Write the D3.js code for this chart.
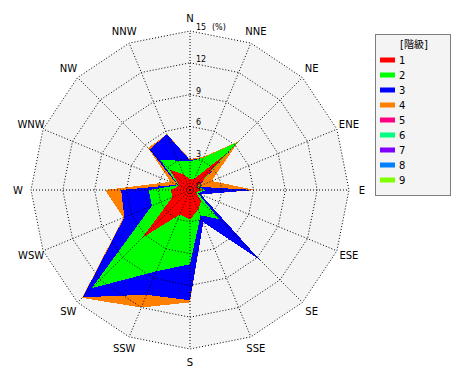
<!DOCTYPE html>
<html><head><meta charset="utf-8">
<script src="https://cdn.jsdelivr.net/npm/d3@7"></script>
<style>
html,body{margin:0;padding:0;background:#fff;}
svg{display:block;}
text{font-family:"DejaVu Sans","Noto Sans CJK JP",sans-serif;fill:#000;}
</style></head>
<body>
<script>
const directions = ["N","NNE","NE","ENE","E","ESE","SE","SSE","S","SSW","SW","WSW","W","WNW","NW","NNW"];
const classNames = ["1","2","3","4","5","6","7","8","9"];
const classColors = ["#ff0000","#00ff00","#0000ff","#ff8000","#ff0080","#00ff80","#8000ff","#0080ff","#80ff00"];
// frequency (%) per class, per direction (N..NNW clockwise)
const class1 = [1.0,1.2,4.8,0.7,1.2,0.6,1.5,2.0,2.8,2.5,6.4,1.8,1.8,1.1,2.7,1.6];
const class2 = [1.7,2.1,1.6,0.05,0.3,0.2,2.4,0.6,4.2,5.8,6.7,2.1,2.1,0.1,1.3,1.4];
const class3 = [0.1,0.0,0.0,0.05,4.6,0.3,5.4,0.7,3.4,2.4,1.2,2.8,2.6,0.1,1.4,2.7];
const class4 = [0.1,0.1,0.1,1.4,0.1,0.0,0.0,0.0,0.2,1.3,0.1,0.1,1.5,0.7,0.2,0.0];
const class5 = [0,0,0,0,0,0,0,0,0,0,0,0,0,0,0,0];
const class6 = [0,0,0,0,0,0,0,0,0,0,0,0,0,0,0,0];
const class7 = [0,0,0,0,0,0,0,0,0,0,0,0,0,0,0,0];
const class8 = [0,0,0,0,0,0,0,0,0,0,0,0,0,0,0,0];
const class9 = [0,0,0,0,0,0,0,0,0,0,0,0,0,0,0,0];
const ringTicks = [3,6,9,12,15];
const tickLabels = ["0","3","6","9","12","15"];
const unitLabel = "(%)";
const legendTitle = "[階級]";

const series = [class1,class2,class3,class4,class5,class6,class7,class8,class9];

const W = 470, H = 380, cx = 190, cy = 190, R = 159;
const svg = d3.select("body").append("svg").attr("width", W).attr("height", H);

const r = d3.scaleLinear().domain([0, 15]).range([0, R]);
const ang = d3.scaleLinear().domain([0, directions.length]).range([0, 2 * Math.PI]);

const g = svg.append("g").attr("transform", `translate(${cx},${cy})`);

const ringLine = d3.lineRadial()
  .angle((d, i) => ang(i))
  .radius(d => r(d))
  .curve(d3.curveLinearClosed);

// background
g.append("path")
  .attr("d", ringLine(directions.map(() => 15)))
  .attr("fill", "#f4f4f4");

// cumulative polygons
const cum = [];
series.forEach((s, k) => {
  cum.push(s.map((v, i) => v + (k > 0 ? cum[k - 1][i] : 0)));
});
for (let k = series.length - 1; k >= 0; k--) {
  g.append("path")
    .attr("d", ringLine(cum[k]))
    .attr("fill", classColors[k])
    .attr("shape-rendering", "crispEdges");
}

// grid rings
ringTicks.forEach(t => {
  g.append("path")
    .attr("d", ringLine(directions.map(() => t)))
    .attr("fill", "none")
    .attr("stroke", "#000")
    .attr("stroke-width", 1)
    .attr("stroke-dasharray", "1,2");
});
// spokes
directions.forEach((d, i) => {
  const a = ang(i);
  g.append("line")
    .attr("x1", 0).attr("y1", 0)
    .attr("x2", r(15) * Math.sin(a)).attr("y2", -r(15) * Math.cos(a))
    .attr("stroke", "#000")
    .attr("stroke-width", 1)
    .attr("stroke-dasharray", "1,2");
});

// tick labels
tickLabels.forEach((t, i) => {
  g.append("text")
    .attr("x", 6)
    .attr("y", -r(+t) - 1)
    .attr("font-size", 8)
    .text(t);
});
g.append("text").attr("x", 22).attr("y", -r(15) - 1).attr("font-size", 8).text(unitLabel);

// direction labels
directions.forEach((d, i) => {
  const a = ang(i);
  const rr = R + 13;
  g.append("text")
    .attr("x", rr * Math.sin(a))
    .attr("y", -rr * Math.cos(a))
    .attr("text-anchor", "middle")
    .attr("dominant-baseline", "central")
    .attr("font-size", 10)
    .text(d);
});

// legend
const lg = svg.append("g");
lg.append("rect")
  .attr("x", 375.5).attr("y", 34.5).attr("width", 75).attr("height", 161)
  .attr("fill", "#f4f4f4").attr("stroke", "#000").attr("stroke-dasharray", "1,1");
lg.append("text").attr("x", 414).attr("y", 48).attr("text-anchor", "middle")
  .attr("font-size", 10).text(legendTitle);
classNames.forEach((c, i) => {
  const y = 60 + i * 15;
  lg.append("rect").attr("x", 380).attr("y", y - 2.5).attr("width", 15).attr("height", 5)
    .attr("fill", classColors[i]);
  lg.append("text").attr("x", 399).attr("y", y + 4).attr("font-size", 10).text(c);
});
</script>
</body></html>
